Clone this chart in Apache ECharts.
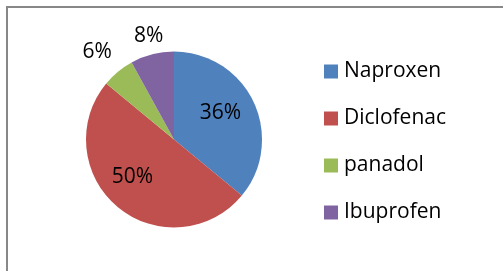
<!DOCTYPE html>
<html>
<head>
<meta charset="utf-8">
<script src="https://cdn.jsdelivr.net/npm/echarts@6/dist/echarts.min.js"></script>
<style>
html,body{margin:0;padding:0;background:#fff;}
#chart{width:503px;height:271px;}
</style>
</head>
<body>
<div id="chart"></div>
<script>
const categories = ['Naproxen', 'Diclofenac', 'panadol', 'Ibuprofen'];
const values = [36, 50, 6, 8];
const colors = ['#4F81BD', '#C0504D', '#9BBB59', '#8064A2'];
const labelPositions = ['inside', 'inside', 'outside', 'outside'];
const labelShift = [[4, -6], [-11.5, 1.6], [6, -4.6], [16, 0]];

const chart = echarts.init(document.getElementById('chart'), null, {renderer: 'canvas'});
const font = '"Open Sans", "Noto Sans", sans-serif';
chart.setOption({
  animation: false,
  backgroundColor: '#fff',
  graphic: [{
    type: 'rect',
    shape: {x: 7, y: 7, width: 700, height: 500},
    style: {fill: 'none', stroke: '#888888', lineWidth: 2},
    silent: true
  }],
  legend: {
    orient: 'vertical',
    left: 324,
    top: 61,
    padding: 0,
    itemWidth: 14,
    itemHeight: 14,
    itemGap: 26,
    icon: 'rect',
    textStyle: {fontFamily: font, fontSize: 21, color: '#000', lineHeight: 20, padding: [0, 0, 0, 1]},
    data: categories
  },
  series: [{
    type: 'pie',
    center: [174, 139.5],
    radius: 88,
    startAngle: 90,
    clockwise: true,
    avoidLabelOverlap: false,
    itemStyle: {borderWidth: 0},
    emphasis: {disabled: true},
    label: {
      formatter: '{d}%',
      fontFamily: font,
      fontSize: 21,
      color: '#000',
      distanceToLabelLine: 0
    },
    labelLine: {show: false, length: 19, length2: 0},
    labelLayout: function (p) {
      const s = labelShift[p.dataIndex];
      return {dx: s[0], dy: s[1]};
    },
    data: categories.map((c, i) => ({
      name: c,
      value: values[i],
      itemStyle: {color: colors[i]},
      label: {position: labelPositions[i]}
    }))
  }]
});
</script>
</body>
</html>
